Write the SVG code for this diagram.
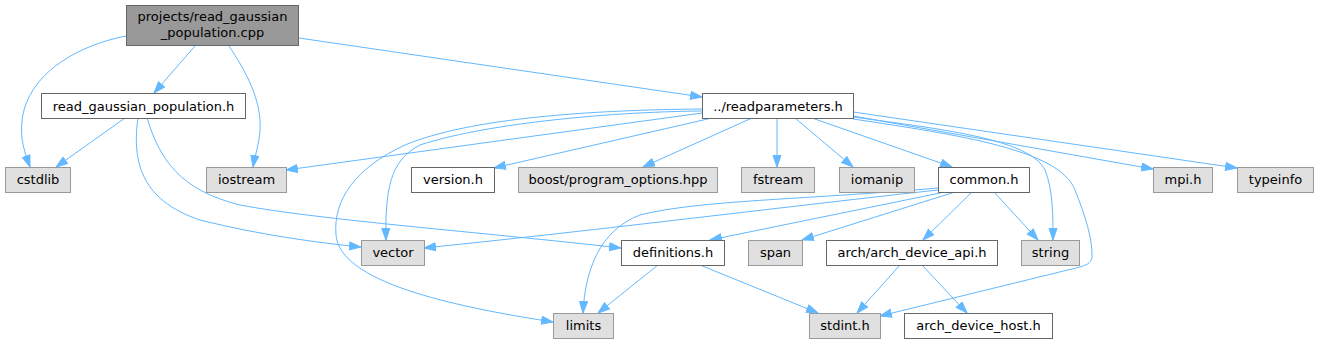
<svg xmlns="http://www.w3.org/2000/svg" width="1319" height="344" viewBox="0 0 1319 344">
<defs>
<style>
.n rect{stroke-width:1}
.w rect{fill:#ffffff;stroke:#666666}
.g rect{fill:#e0e0e0;stroke:#999999}
.m rect{fill:#999999;stroke:#666666}
text{font-family:"DejaVu Sans","Liberation Sans",sans-serif;font-size:13px;fill:#000000;text-anchor:middle}
.e path{fill:none;stroke:#63b8ff;stroke-width:1;marker-end:url(#ah)}
</style>
<marker id="ah" markerUnits="userSpaceOnUse" markerWidth="13" markerHeight="10" refX="12" refY="4.5" orient="auto">
<path d="M0.5,0.5 L12,4.5 L0.5,8.5 z" fill="#63b8ff" stroke="#63b8ff" stroke-width="1"/>
</marker>
</defs>
<rect width="1319" height="344" fill="#ffffff"/>
<g class="e" id="connectors">
<path d="M195,46 L154,93"/>
<path d="M126,36 C80,45 35,70 24,110 C18,135 24,150 30,167"/>
<path d="M229,46 C245,70 262,100 260,130 C259,145 255,155 253,167"/>
<path d="M299,38 L702,97"/>
<path d="M125,118 L56,167"/>
<path d="M138,118 C132,160 140,200 200,220 C260,235 320,243 361,247"/>
<path d="M147,118 C160,160 180,190 240,205 C320,220 480,232 621,248"/>
<path d="M702,113 L286,170"/>
<path d="M712,118 L494,168"/>
<path d="M752,118 L643,167"/>
<path d="M777,118 L777,167"/>
<path d="M795,118 L853,167"/>
<path d="M812,118 L952,167"/>
<path d="M853,116 L1153,169"/>
<path d="M853,112 L1237,168"/>
<path d="M853,117 C950,130 1030,140 1045,170 C1053,190 1053,215 1053,240"/>
<path d="M853,119 C960,135 1060,150 1075,190 C1085,215 1093,240 1092,258 C1090,264 1086,265 1080,267 L880,316"/>
<path d="M702,111 C600,112 480,125 420,145 C390,160 385,190 386,240"/>
<path d="M702,109 C590,110 470,118 405,145 C355,168 333,200 336,235 C340,282 450,306 553,322"/>
<path d="M938,190 C800,205 600,230 424,248"/>
<path d="M938,188 C800,200 700,200 640,215 C600,230 585,270 583,313"/>
<path d="M945,192 L710,240"/>
<path d="M955,192 L802,240"/>
<path d="M972,192 L923,240"/>
<path d="M994,192 L1038,240"/>
<path d="M658,265 L598,313"/>
<path d="M700,265 L818,313"/>
<path d="M900,265 L857,313"/>
<path d="M922,265 L967,313"/>
</g>
<g id="n_cpp" class="n m"><rect x="126.5" y="5.5" width="172" height="40"/><text x="212.5" y="21">projects/read_gaussian</text><text x="212.5" y="37">_population.cpp</text></g>
<g id="n_rgph" class="n w"><rect x="41.5" y="93.5" width="204" height="25"/><text x="143.5" y="110.5">read_gaussian_population.h</text></g>
<g id="n_cstdlib" class="n g"><rect x="5.5" y="167.5" width="65" height="25"/><text x="38" y="184">cstdlib</text></g>
<g id="n_iostream" class="n g"><rect x="206.5" y="167.5" width="80" height="25"/><text x="246.5" y="184">iostream</text></g>
<g id="n_readparameters" class="n w"><rect x="702.5" y="93.5" width="151" height="25"/><text x="778" y="110.5">../readparameters.h</text></g>
<g id="n_version" class="n w"><rect x="411.5" y="167.5" width="83" height="25"/><text x="453" y="184">version.h</text></g>
<g id="n_boost" class="n g"><rect x="518.5" y="167.5" width="199" height="25"/><text x="618" y="184">boost/program_options.hpp</text></g>
<g id="n_fstream" class="n g"><rect x="741.5" y="167.5" width="73" height="25"/><text x="778" y="184">fstream</text></g>
<g id="n_iomanip" class="n g"><rect x="839.5" y="167.5" width="75" height="25"/><text x="877" y="184">iomanip</text></g>
<g id="n_common" class="n w"><rect x="938.5" y="167.5" width="91" height="25"/><text x="984" y="184">common.h</text></g>
<g id="n_mpi" class="n g"><rect x="1153.5" y="167.5" width="59" height="25"/><text x="1183" y="184">mpi.h</text></g>
<g id="n_typeinfo" class="n g"><rect x="1237.5" y="167.5" width="76" height="25"/><text x="1275.5" y="184">typeinfo</text></g>
<g id="n_vector" class="n g"><rect x="361.5" y="240.5" width="63" height="25"/><text x="393" y="257">vector</text></g>
<g id="n_definitions" class="n w"><rect x="621.5" y="240.5" width="103" height="25"/><text x="673" y="257">definitions.h</text></g>
<g id="n_span" class="n g"><rect x="748.5" y="240.5" width="54" height="25"/><text x="775.5" y="257">span</text></g>
<g id="n_archapi" class="n w"><rect x="826.5" y="240.5" width="171" height="25"/><text x="912" y="257">arch/arch_device_api.h</text></g>
<g id="n_string" class="n g"><rect x="1021.5" y="240.5" width="58" height="25"/><text x="1050.5" y="257">string</text></g>
<g id="n_limits" class="n g"><rect x="553.5" y="313.5" width="60" height="25"/><text x="583.5" y="330">limits</text></g>
<g id="n_stdint" class="n g"><rect x="809.5" y="313.5" width="71" height="25"/><text x="845" y="330">stdint.h</text></g>
<g id="n_archhost" class="n w"><rect x="904.5" y="313.5" width="148" height="25"/><text x="978.5" y="330">arch_device_host.h</text></g>
</svg>
